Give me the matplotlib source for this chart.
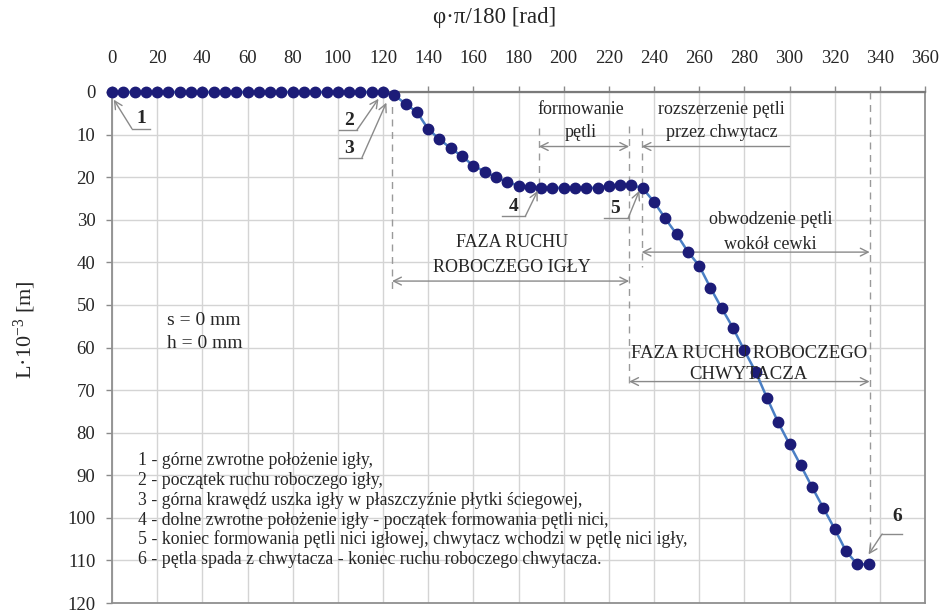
import matplotlib
matplotlib.use("Agg")
import matplotlib.pyplot as plt
import numpy as np

plt.rcParams['font.family'] = ['Liberation Serif', 'DejaVu Serif']
plt.rcParams['mathtext.fontset'] = 'custom'
plt.rcParams['mathtext.rm'] = 'Liberation Serif'
plt.rcParams['mathtext.it'] = 'Liberation Serif:italic'
plt.rcParams['mathtext.bf'] = 'Liberation Serif:bold'

# ---- data ----
phi = list(range(0, 340, 5))  # 0..335 deg
L = ([0.0] * 25 +
     [0.7, 2.8, 4.7, 8.7, 11.1, 13.2, 15.1, 17.3, 18.7, 20.0, 21.1, 22.0, 22.4,
      22.5, 22.5, 22.5, 22.5, 22.5, 22.5, 22.0, 21.8, 21.8,
      22.6, 25.8, 29.7, 33.4, 37.5, 40.8, 46.0, 50.8, 55.4, 60.7, 65.7, 71.8,
      77.6, 82.7, 87.7, 92.8, 97.7, 102.6, 107.8, 110.9, 110.9])

x_ticks = list(range(0, 361, 20))
y_ticks = list(range(0, 121, 10))

legend_lines = [
    "1 - górne zwrotne położenie igły,",
    "2 - początek ruchu roboczego igły,",
    "3 - górna krawędź uszka igły w płaszczyźnie płytki ściegowej,",
    "4 - dolne zwrotne położenie igły - początek formowania pętli nici,",
    "5 - koniec formowania pętli nici igłowej, chwytacz wchodzi w pętlę nici igły,",
    "6 - pętla spada z chwytacza - koniec ruchu roboczego chwytacza.",
]

TXT = '#262626'
GR = '#8a8a8a'

fig = plt.figure(figsize=(9.44, 6.15), dpi=100)
ax = fig.add_axes([112/944, 1-603/615, (925-112)/944, (603-92)/615])

ax.set_xlim(0, 360)
ax.set_ylim(120, 0)
ax.set_xticks(x_ticks)
ax.set_yticks(y_ticks)
ax.xaxis.tick_top()
ax.tick_params(axis='both', labelsize=13.5, colors='#8a8a8a', labelcolor=TXT, length=4, width=1)
ax.tick_params(axis='x', pad=14)
ax.tick_params(axis='y', pad=8)
ax.grid(True, color='#d4d4d4', linewidth=1)
ax.set_axisbelow(True)
for s in ax.spines.values():
    s.set_color('#8f8f8f')
    s.set_linewidth(1.3)
ax.spines['top'].set_color('#7a7a7a')
ax.spines['top'].set_linewidth(1.6)

fig.text(495/944, 1-18/615, "φ·π/180 [rad]", ha='center', va='center', fontsize=16.5, color=TXT)
fig.text(25/944, 1-330/615, "L·10$^{-3}$ [m]", rotation=90, ha='center', va='center',
         fontsize=16, color=TXT)

ax.plot(phi, L, color='#4a7fc4', linewidth=1.8, marker='o', markersize=7.5,
        markerfacecolor='#1c1c78', markeredgecolor='#1c1c78', zorder=5, clip_on=False)

# ---- dashed guides ----
dash = dict(color='#9a9a9a', linestyle=(0, (5, 4)), linewidth=1.0, zorder=3)
ax.plot([124, 124], [0.5, 46.5], **dash)
ax.plot([189, 189], [8.4, 22.8], **dash)
ax.plot([229, 229], [8.1, 69.6], **dash)
ax.plot([234.5, 234.5], [8.4, 41], **dash)
ax.plot([335.5, 335.5], [0, 108.5], **dash)

def harrow(x0, x1, y, both=True):
    ax.annotate('', xy=(x0, y), xytext=(x1, y),
                arrowprops=dict(arrowstyle='<->' if both else '<-', color='#8a8a8a', lw=1.0,
                                shrinkA=0, shrinkB=0, mutation_scale=14), zorder=4)

harrow(124, 229, 44.4)
harrow(189, 229, 12.8)
ax.annotate('', xy=(234.5, 12.8), xytext=(300, 12.8),
            arrowprops=dict(arrowstyle='->', color='#8a8a8a', lw=1.0, shrinkA=0, shrinkB=0,
                            mutation_scale=14))
harrow(234.5, 335.5, 37.6)
harrow(229, 335.5, 68.0)

tk = dict(ha='center', va='center', color=TXT, fontsize=13, zorder=6)
ax.text(177, 35.3, "FAZA RUCHU", **tk)
ax.text(177, 41.1, "ROBOCZEGO IGŁY", **tk)
ax.text(207.5, 4.2, "formowanie", **tk)
ax.text(207.5, 9.6, "pętli", **tk)
ax.text(270, 4.2, "rozszerzenie pętli", **tk)
ax.text(270, 9.6, "przez chwytacz", **tk)
ax.text(291.5, 29.9, "obwodzenie pętli", **tk)
ax.text(291.5, 35.7, "wokół cewki", **tk)
ax.text(282, 61.4, "FAZA RUCHU ROBOCZEGO", fontsize=13.5, ha='center', va='center', color=TXT, zorder=6)
ax.text(282, 66.4, "CHWYTACZA", fontsize=13.5, ha='center', va='center', color=TXT, zorder=6)

# ---- point labels with leader lines ----
def leader(tip, elbow, end, label, lpos):
    ax.annotate('', xy=tip, xytext=elbow,
                arrowprops=dict(arrowstyle='->', color='#8a8a8a', lw=1.0, shrinkA=0, shrinkB=0,
                                mutation_scale=14), zorder=6)
    ax.plot([elbow[0], end[0]], [elbow[1], end[1]], color='#8a8a8a', lw=1.0, zorder=6)
    ax.text(lpos[0], lpos[1], label, ha='center', va='center', fontsize=14,
            fontweight='bold', color=TXT, zorder=7)

leader((0.8, 1.8), (8.8, 8.6), (17, 8.6), "1", (13.2, 6.3))
leader((118, 1.6), (108.5, 8.9), (100.5, 8.9), "2", (105, 6.6))
leader((121.5, 2.5), (110.7, 15.4), (100.5, 15.4), "3", (105, 13.3))
leader((188.5, 23.2), (183, 29.2), (172.5, 29.2), "4", (177.8, 27.0))
leader((233.5, 23.2), (228.5, 29.7), (218, 29.7), "5", (222.8, 27.4))
leader((335, 108.6), (341, 103.8), (350, 103.8), "6", (347.6, 99.8))

ax.text(24.5, 53.7, "s = 0 mm", ha='left', va='center', fontsize=14, color=TXT)
ax.text(24.5, 59.1, "h = 0 mm", ha='left', va='center', fontsize=14, color=TXT)

for i, line in enumerate(legend_lines):
    ax.text(11.5, 86.6 + i * 4.62, line, ha='left', va='center', fontsize=12.8, color=TXT, zorder=6)

fig.savefig("out.png", dpi=100)
